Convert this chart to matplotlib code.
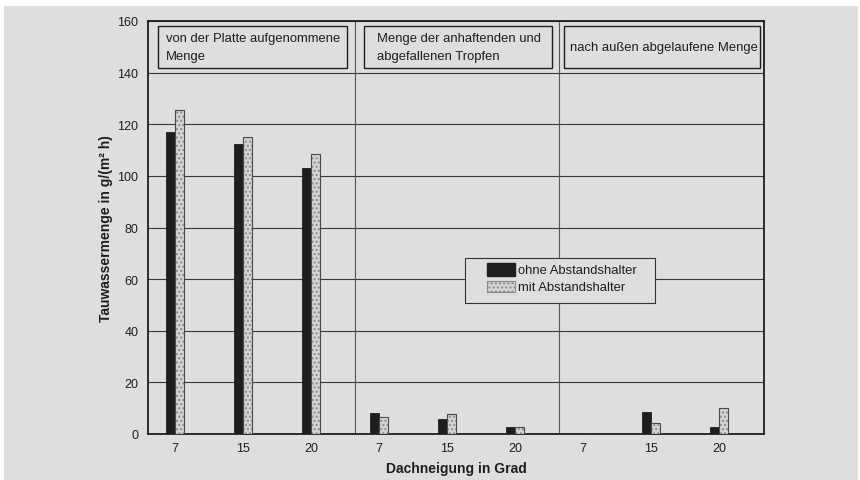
import matplotlib

matplotlib.use("Agg")
import matplotlib.pyplot as plt
import numpy as np
from matplotlib.patches import Rectangle

plt.rcParams["font.family"] = ["Liberation Sans", "DejaVu Sans"]

# Tauwassermenge je Dachneigung, in drei Bereichen
sections = [
    "von der Platte aufgenommene\nMenge",
    "Menge der anhaftenden und\nabgefallenen Tropfen",
    "nach außen abgelaufene Menge",
]
angles = ["7", "15", "20", "7", "15", "20", "7", "15", "20"]
ohne = [117.0, 112.2, 103.2, 8.1, 5.9, 2.8, 0.0, 8.4, 2.7]
mit = [125.7, 114.9, 108.3, 6.5, 7.8, 2.8, 0.0, 4.3, 10.0]
series = ["ohne Abstandshalter", "mit Abstandshalter"]
yticks = [0, 20, 40, 60, 80, 100, 120, 140, 160]

BG = "#dddee0"
INK = "#1e1e1e"

fig = plt.figure(figsize=(8.6, 4.81), dpi=100)
fig.patch.set_facecolor("white")
fig.patches.append(Rectangle((4 / 860, 0), 854 / 860, 474 / 481, transform=fig.transFigure,
                             facecolor=BG, edgecolor="none", zorder=-10))

ax = fig.add_axes([148 / 860, 1 - 435 / 481, 616 / 860, 413 / 481])
ax.set_facecolor(BG)

x = np.arange(len(angles))
w = 0.128
ax.bar(x - w / 2, ohne, w, color=INK, edgecolor=INK, lw=0.6, zorder=3)
ax.bar(x + w / 2, mit, w, color="#d4d4d4", edgecolor="#8a8a8a", hatch="....", lw=0,
       zorder=3)
ax.bar(x + w / 2, mit, w, fill=False, edgecolor="#4a4a4a", lw=0.8, zorder=4)

ax.set_xlim(-0.40, 8.66)
ax.set_ylim(0, 160)
ax.set_yticks(yticks)
ax.set_xticks(x)
ax.set_xticklabels(angles)
ax.tick_params(axis="both", length=0, labelsize=9, colors=INK)
ax.tick_params(axis="y", pad=7)
ax.tick_params(axis="x", pad=6)
ax.yaxis.grid(True, color="#3a3a3a", lw=0.8, zorder=1)
for s in ax.spines.values():
    s.set_color(INK)
    s.set_linewidth(1.3)

# Trennlinien zwischen den Bereichen
for d in (2.65, 5.65):
    ax.axvline(d, color="#555", lw=0.8, zorder=2)

# Bereichsüberschriften in Kästen
boxes = [(0.016, 0.323), (0.351, 0.656), (0.675, 0.994)]
text_x = [0.029, 0.372, 0.685]
for (x0, x1), tx, label in zip(boxes, text_x, sections):
    ax.add_patch(Rectangle((x0, 0.886), x1 - x0, 0.102, transform=ax.transAxes,
                           facecolor=BG, edgecolor=INK, lw=1.0, zorder=5))
    ax.text(tx, 0.937, label, transform=ax.transAxes, ha="left", va="center",
            fontsize=9.4, linespacing=1.6, color=INK, zorder=6)

# Legende
ax.add_patch(Rectangle((0.515, 0.317), 0.308, 0.109, transform=ax.transAxes,
                       facecolor=BG, edgecolor="#333", lw=0.8, zorder=5))
ax.add_patch(Rectangle((0.551, 0.383), 0.044, 0.031, transform=ax.transAxes,
                       facecolor=INK, edgecolor=INK, zorder=6))
ax.add_patch(Rectangle((0.551, 0.343), 0.044, 0.028, transform=ax.transAxes,
                       facecolor="#d4d4d4", edgecolor="#8a8a8a", hatch="....",
                       lw=0.8, zorder=6))
ax.text(0.600, 0.398, series[0], transform=ax.transAxes, ha="left", va="center",
        fontsize=9.4, color=INK, zorder=7)
ax.text(0.600, 0.356, series[1], transform=ax.transAxes, ha="left",
        va="center", fontsize=9.4, color=INK, zorder=7)

ax.set_ylabel("Tauwassermenge in g/(m² h)", fontsize=10, fontweight="bold",
              color=INK, labelpad=3)
ax.set_xlabel("Dachneigung in Grad", fontsize=10, fontweight="bold", color=INK,
              labelpad=5)

fig.savefig("out.png", dpi=100, facecolor=fig.get_facecolor())
